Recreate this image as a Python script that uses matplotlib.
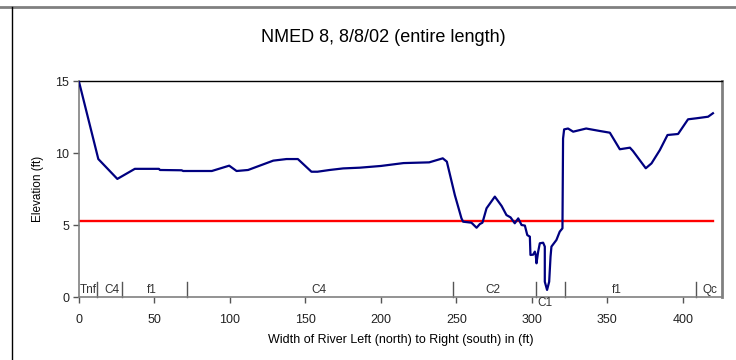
import matplotlib
matplotlib.use("Agg")
import matplotlib.pyplot as plt
from matplotlib.lines import Line2D
from matplotlib.transforms import blended_transform_factory

plt.rcParams['font.family'] = ['Liberation Sans', 'DejaVu Sans']

# Cross-section profile: distance (ft) and elevation (ft)
distance = [0, 12.8, 25.4, 37, 53, 53.6, 68, 69, 88, 99.5, 104.4, 112, 128.7, 137.5,
            145, 154, 158, 166, 175, 186, 200, 215, 232, 241, 243.7, 249, 253.4,
            254.5, 260, 263.4, 265.6, 267.3, 270, 275.5, 280, 283.2, 285.9, 288.7,
            291, 293.2, 295.4, 297, 298.7, 299.1, 300.9, 302, 302.6, 303.1, 304.2,
            305.3, 307.5, 308.6, 308.6, 310.1, 311.5, 312.4, 313, 316.3, 318.5,
            320.3, 320.7, 321.4, 324, 327.4, 336, 345, 351.7, 358.3, 365, 367,
            375.5, 379.3, 384.8, 389.9, 396.9, 403.5, 409, 416.8, 420]
elevation = [14.95, 9.58, 8.2, 8.9, 8.9, 8.82, 8.8, 8.75, 8.75, 9.12, 8.75, 8.82,
             9.47, 9.58, 9.58, 8.7, 8.7, 8.82, 8.93, 8.98, 9.1, 9.3, 9.35, 9.63,
             9.4, 7.08, 5.46, 5.23, 5.16, 4.81, 5.07, 5.16, 6.16, 6.97, 6.32, 5.69,
             5.53, 5.12, 5.46, 5.0, 4.96, 4.3, 4.19, 2.92, 2.94, 3.15, 2.92, 2.34,
             3.15, 3.73, 3.77, 3.5, 1.06, 0.49, 1.06, 2.8, 3.5, 3.96, 4.54, 4.77,
             11.0, 11.64, 11.7, 11.48, 11.7, 11.53, 11.41, 10.26, 10.37, 10.14,
             8.94, 9.28, 10.2, 11.25, 11.32, 12.34, 12.41, 12.52, 12.76]

# Reference water-surface elevation
water_level = 5.3
water_extent = [0, 420]

# Geomorphic unit boundaries and labels
unit_bounds = [12, 28.5, 71.5, 248, 302.6, 322, 408.6]
unit_names = ["Tnf", "C4", "f1", "C4", "C2", "C1", "f1", "Qc"]
unit_centers = [6, 21.5, 48, 159, 274, 309, 356, 418]
unit_below = [False, False, False, False, False, True, False, False]

x_ticks = [0, 50, 100, 150, 200, 250, 300, 350, 400]
y_ticks = [0, 5, 10, 15]

fig = plt.figure(figsize=(7.36, 3.6), dpi=100)
ax = fig.add_axes([79 / 736, 63 / 360, 643 / 736, 216 / 360])

ax.plot(water_extent, [water_level, water_level], color="#ff0000", lw=1.7, zorder=2)
ax.plot(distance, elevation, color="#000080", lw=1.6, zorder=3)

ax.set_xlim(0, 426)
ax.set_ylim(0, 15)
ax.set_xticks(x_ticks)
ax.set_yticks(y_ticks)
ax.tick_params(axis="both", direction="out", length=4, width=1, color="#555555",
               labelsize=9, labelcolor="#222222")
ax.tick_params(axis="x", pad=8)
ax.tick_params(axis="y", pad=3)

for side in ("left", "bottom"):
    ax.spines[side].set_color("#808080")
    ax.spines[side].set_linewidth(1.2)
ax.spines["right"].set_color("#808080")
ax.spines["right"].set_linewidth(2)
ax.spines["top"].set_color("black")
ax.spines["top"].set_linewidth(1)

fig.text(383 / 736, 1 - 37 / 360, "NMED 8, 8/8/02 (entire length)", fontsize=13,
         ha="center", va="center")
ax.set_ylabel("Elevation (ft)", fontsize=8.5, labelpad=8)
ax.set_xlabel("Width of River Left (north) to Right (south) in (ft)", fontsize=9,
              labelpad=6)

trans = blended_transform_factory(ax.transData, ax.transAxes)
for xb in unit_bounds:
    ax.plot([xb, xb], [0, 0.07], color="#555555", lw=1, transform=trans,
            clip_on=False)
for name, xc, below in zip(unit_names, unit_centers, unit_below):
    if below:
        ax.text(xc, -0.03, name, transform=trans, ha="center", va="center",
                fontsize=8.5, color="#333333", clip_on=False)
    else:
        ax.text(xc, 0.032, name, transform=trans, ha="center", va="center",
                fontsize=8.5, color="#333333")

# Outer chart frame
fig.add_artist(Line2D([0, 1], [1 - 6.5 / 360, 1 - 6.5 / 360], color="#808080",
                      lw=2, transform=fig.transFigure))
fig.add_artist(Line2D([12 / 736, 12 / 736], [0, 1 - 6.5 / 360], color="black",
                      lw=1, transform=fig.transFigure))

fig.savefig("out.png", dpi=100)
